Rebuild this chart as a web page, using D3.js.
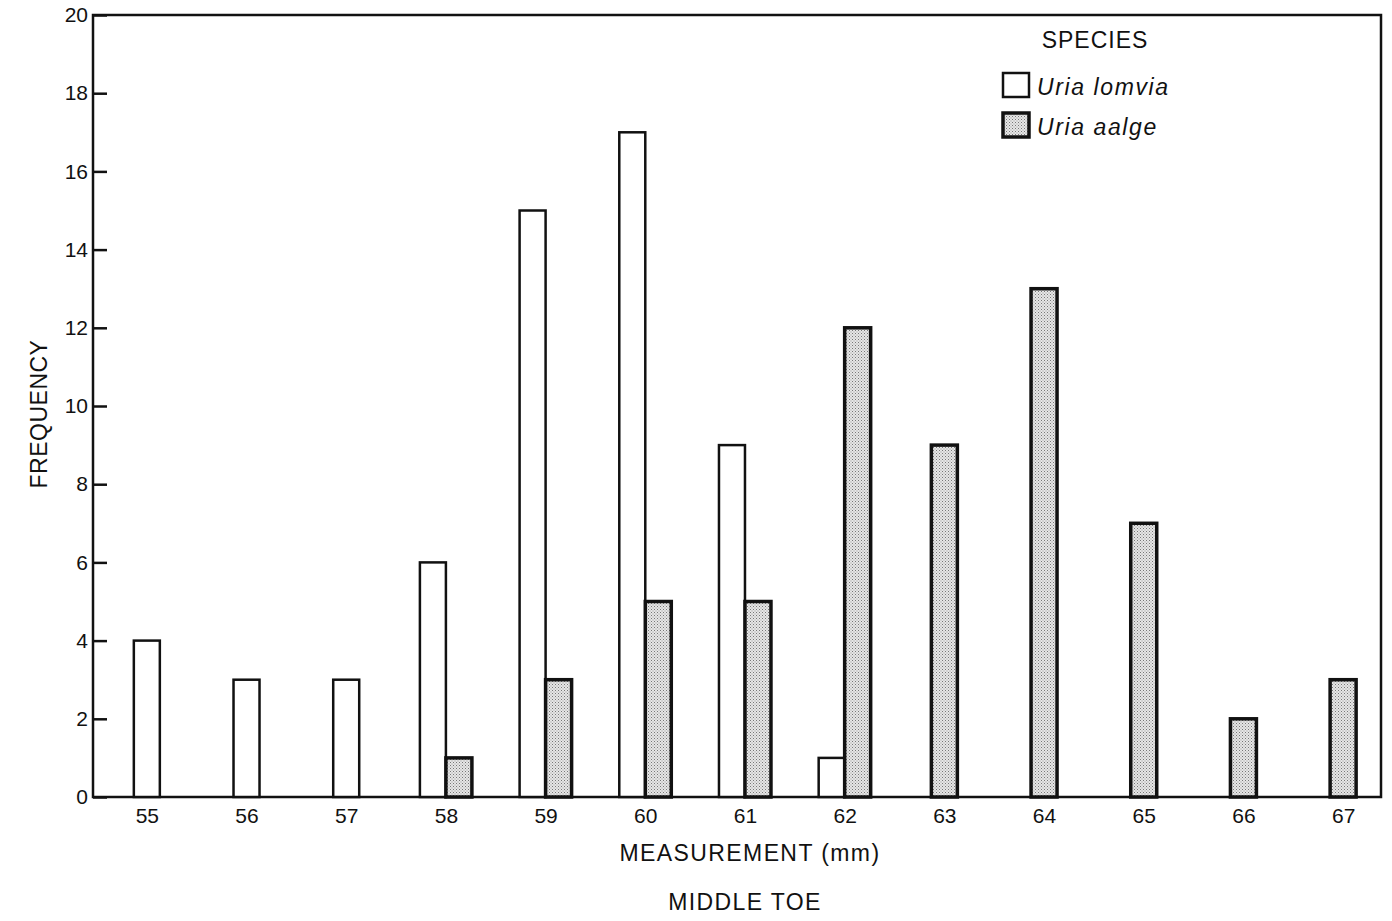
<!DOCTYPE html>
<html>
<head>
<meta charset="utf-8">
<script src="https://cdn.jsdelivr.net/npm/d3@7"></script>
<style>
  body { margin: 0; background: #fff; }
  text { font-family: "Liberation Sans", Arial, sans-serif; fill: #111; }
</style>
</head>
<body>
<script>
// measurement classes (mm)
const sizes = [55, 56, 57, 58, 59, 60, 61, 62, 63, 64, 65, 66, 67];
const lomvia = [4, 3, 3, 6, 15, 17, 9, 1, 0, 0, 0, 0, 0];
const aalge  = [0, 0, 0, 1, 3, 5, 5, 12, 9, 13, 7, 2, 3];
const yTicks = [0, 2, 4, 6, 8, 10, 12, 14, 16, 18, 20];
const speciesNames = ["Uria lomvia", "Uria aalge"];

const W = 1392, H = 921;
const mLeft = 93, mRight = 1381, mTop = 15, mBottom = 797;
const barW = 26;

const svg = d3.select("body").append("svg")
    .attr("width", W)
    .attr("height", H);

// stipple fill for U. aalge
const defs = svg.append("defs");
const pat = defs.append("pattern")
    .attr("id", "stip")
    .attr("width", 3).attr("height", 3)
    .attr("patternUnits", "userSpaceOnUse");
pat.append("rect").attr("width", 3).attr("height", 3).attr("fill", "#e6e6e6");
pat.append("rect").attr("x", 0).attr("y", 0).attr("width", 1).attr("height", 1).attr("fill", "#777");
pat.append("rect").attr("x", 1.5).attr("y", 1.5).attr("width", 1).attr("height", 1).attr("fill", "#999");

const x = d3.scaleLinear().domain([54.46, 67.38]).range([mLeft, mRight]);
const y = d3.scaleLinear().domain([0, 20]).range([mBottom, mTop]);

// frame
svg.append("rect")
    .attr("x", mLeft).attr("y", mTop)
    .attr("width", mRight - mLeft).attr("height", mBottom - mTop)
    .attr("fill", "none").attr("stroke", "#111").attr("stroke-width", 2.5);

// y axis, ticks inside
const yAxis = svg.append("g")
    .attr("transform", `translate(${mLeft},0)`)
    .call(d3.axisRight(y).tickValues(yTicks).tickSize(14).tickFormat(d3.format("d")));
yAxis.select(".domain").remove();
yAxis.selectAll("line").attr("stroke", "#111").attr("stroke-width", 2.5);
yAxis.selectAll("text")
    .attr("x", -5).attr("text-anchor", "end")
    .style("font-size", "21px");

// x labels
const xAxis = svg.append("g")
    .attr("transform", `translate(0,${mBottom})`)
    .call(d3.axisBottom(x).tickValues(sizes).tickSize(0).tickPadding(11).tickFormat(d3.format("d")));
xAxis.select(".domain").remove();
xAxis.selectAll("text").style("font-size", "21px");

// bars: side by side where both species present, centred otherwise
const rows = sizes.map((s, i) => ({ s, a: lomvia[i], b: aalge[i] }));
const bars = [];
rows.forEach(r => {
    const both = r.a > 0 && r.b > 0;
    if (r.a > 0) bars.push({ s: r.s, v: r.a, sp: 0, off: both ? -barW : -barW / 2 });
    if (r.b > 0) bars.push({ s: r.s, v: r.b, sp: 1, off: both ? 0 : -barW / 2 });
});

svg.append("g").selectAll("rect")
    .data(bars)
    .enter()
    .append("rect")
    .attr("x", d => x(d.s) + d.off)
    .attr("y", d => y(d.v))
    .attr("width", barW)
    .attr("height", d => y(0) - y(d.v))
    .attr("fill", d => d.sp === 0 ? "#fff" : "url(#stip)")
    .attr("stroke", "#111")
    .attr("stroke-width", d => d.sp === 0 ? 2.5 : 3.5);

// axis titles
svg.append("text")
    .attr("transform", "translate(47,414) rotate(-90)")
    .attr("text-anchor", "middle")
    .style("font-size", "23px")
    .style("letter-spacing", "0.5px")
    .text("FREQUENCY");
svg.append("text")
    .attr("x", 750).attr("y", 861)
    .attr("text-anchor", "middle")
    .style("font-size", "23px")
    .style("letter-spacing", "1.4px")
    .text("MEASUREMENT (mm)");
svg.append("text")
    .attr("x", 745).attr("y", 910)
    .attr("text-anchor", "middle")
    .style("font-size", "23px")
    .style("letter-spacing", "1.4px")
    .text("MIDDLE TOE");

// legend
const lg = svg.append("g").attr("transform", "translate(1003,0)");
lg.append("text")
    .attr("x", 92).attr("y", 48)
    .attr("text-anchor", "middle")
    .style("font-size", "23px")
    .style("letter-spacing", "1px")
    .text("SPECIES");
const items = lg.selectAll("g.item")
    .data(speciesNames)
    .enter()
    .append("g")
    .attr("class", "item")
    .attr("transform", (d, i) => `translate(0,${73 + i * 40})`);
items.append("rect")
    .attr("width", 26).attr("height", 24)
    .attr("fill", (d, i) => i === 0 ? "#fff" : "url(#stip)")
    .attr("stroke", "#111")
    .attr("stroke-width", (d, i) => i === 0 ? 2.5 : 3.5);
items.append("text")
    .attr("x", 34).attr("y", 22)
    .style("font-size", "23px")
    .style("font-style", "italic")
    .style("letter-spacing", "1.6px")
    .text(d => d);
</script>
</body>
</html>
